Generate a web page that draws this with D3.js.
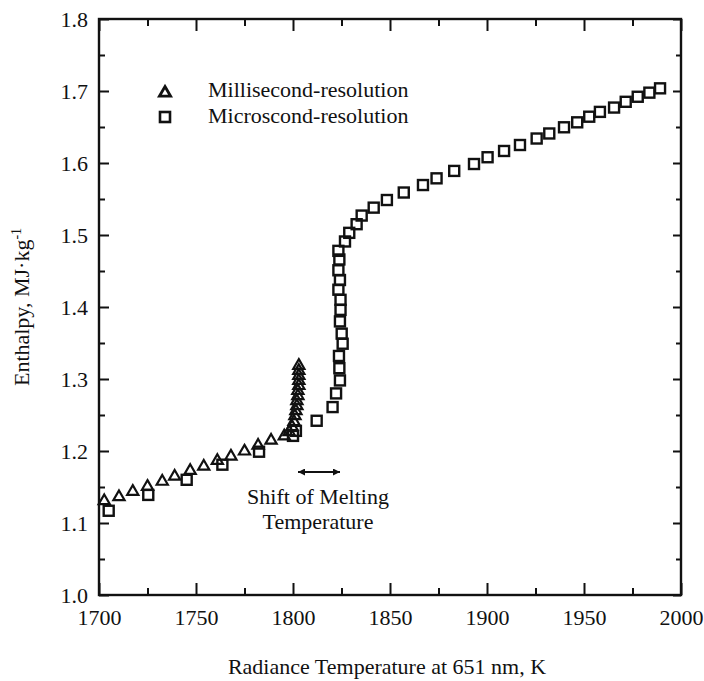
<!DOCTYPE html>
<html><head><meta charset="utf-8">
<script src="https://cdn.jsdelivr.net/npm/d3@7/dist/d3.min.js"></script>
<style>
body{margin:0;background:#fff;}
svg{display:block;}
text{font-family:"Liberation Serif","Times New Roman",serif;fill:#111;}
</style></head>
<body><svg id="c" width="704" height="681"></svg>
<script>
// Millisecond-resolution (triangles)
const msT = [1702.7,1710.3,1717.4,1725,1732.6,1739,1747,1754,1761,1768,1775,1782,1788.7,1795.5,
             1798,1799.5,1800.5,1801,1801.5,1802,1802,1802.5,1802.5,1803,1803,1803,1803,1803];
const msH = [1.132,1.1375,1.145,1.152,1.159,1.166,1.174,1.180,1.188,1.194,1.201,1.209,1.216,1.222,
             1.228,1.235,1.242,1.25,1.257,1.264,1.271,1.278,1.285,1.292,1.299,1.306,1.313,1.320];
// Microsecond-resolution (squares)
const usT = [1705,1725.4,1745.2,1763.6,1782.5,1800,1801.5,1812.2,1820.4,1822.2,1824.2,1823.9,1823.7,1825.6,1825.1,
             1824.2,1824.5,1824.5,1823.4,1824.2,1823.4,1823.9,1823.4,1826.8,1829,1832.8,1835.4,1841.6,1848.4,1857.1,
             1867,1874,1883.1,1893.3,1900.3,1908.8,1917,1925.6,1932.1,1939.7,1946.5,1952.7,1958.2,1965.5,1971.5,
             1977.7,1983.7,1989.2];
const usH = [1.117,1.139,1.160,1.181,1.199,1.221,1.228,1.242,1.261,1.280,1.298,1.315,1.332,1.349,1.363,
             1.380,1.396,1.410,1.424,1.4375,1.451,1.466,1.478,1.491,1.503,1.515,1.527,1.538,1.5486,1.559,
             1.5694,1.5787,1.589,1.5986,1.608,1.6167,1.625,1.634,1.641,1.6496,1.6565,1.6643,1.671,1.677,1.685,
             1.692,1.6977,1.7037];
const xTicks = [1700,1750,1800,1850,1900,1950,2000];
const xMinor = [1725,1775,1825,1875,1925,1975];
const yTicks = [1.0,1.1,1.2,1.3,1.4,1.5,1.6,1.7,1.8];
const yMinor = [1.05,1.15,1.25,1.35,1.45,1.55,1.65,1.75];
const legendLabels = ["Millisecond-resolution","Microscond-resolution"];

const L=99,R=681,T=19,B=595;
const svg=d3.select("#c");
const x=d3.scaleLinear().domain([1700,2000]).range([L,R]);
const y=d3.scaleLinear().domain([1.0,1.8]).range([B,T]);
const fs=22;

function styleAxis(g){
  g.select(".domain").remove();
  g.selectAll(".tick line").attr("stroke","#111").attr("stroke-width",2);
  g.selectAll(".tick text").attr("font-size",fs).attr("font-family","Liberation Serif, serif").attr("fill","#111");
}
// bottom
svg.append("g").attr("transform",`translate(0,${B})`)
  .call(d3.axisBottom(x).tickValues(xTicks).tickSize(-12).tickPadding(14).tickFormat(d3.format("d"))).call(styleAxis);
svg.append("g").attr("transform",`translate(0,${B})`)
  .call(d3.axisBottom(x).tickValues(xMinor).tickSize(-7).tickFormat("")).call(styleAxis);
// top
svg.append("g").attr("transform",`translate(0,${T})`)
  .call(d3.axisTop(x).tickValues(xTicks).tickSize(-12).tickFormat("")).call(styleAxis);
svg.append("g").attr("transform",`translate(0,${T})`)
  .call(d3.axisTop(x).tickValues(xMinor).tickSize(-7).tickFormat("")).call(styleAxis);
// left
svg.append("g").attr("transform",`translate(${L},0)`)
  .call(d3.axisLeft(y).tickValues(yTicks).tickSize(-10).tickPadding(11).tickFormat(d3.format(".1f"))).call(styleAxis);
svg.append("g").attr("transform",`translate(${L},0)`)
  .call(d3.axisLeft(y).tickValues(yMinor).tickSize(-6).tickFormat("")).call(styleAxis);
// right
svg.append("g").attr("transform",`translate(${R},0)`)
  .call(d3.axisRight(y).tickValues(yTicks).tickSize(-8).tickFormat("")).call(styleAxis);
svg.append("g").attr("transform",`translate(${R},0)`)
  .call(d3.axisRight(y).tickValues(yMinor).tickSize(-5).tickFormat("")).call(styleAxis);

svg.append("rect").attr("x",L).attr("y",T).attr("width",R-L).attr("height",B-T)
  .attr("fill","none").attr("stroke","#111").attr("stroke-width",2.4);

const tri = d3.symbol().type(d3.symbolTriangle).size(54);
const sq = 10;

// triangles
svg.append("g").selectAll("path").data(msT.map((t,i)=>[t,msH[i]])).join("path")
  .attr("d",tri).attr("transform",d=>`translate(${x(d[0])},${y(d[1])+1})`)
  .attr("fill","none").attr("stroke","#111").attr("stroke-width",2.2);
// squares
svg.append("g").selectAll("rect").data(usT.map((t,i)=>[t,usH[i]])).join("rect")
  .attr("x",d=>x(d[0])-sq/2).attr("y",d=>y(d[1])-sq/2).attr("width",sq).attr("height",sq)
  .attr("fill","none").attr("stroke","#111").attr("stroke-width",2.4);

// legend
svg.append("path").attr("d",tri).attr("transform","translate(165,93)")
  .attr("fill","none").attr("stroke","#111").attr("stroke-width",2.8);
svg.append("rect").attr("x",160).attr("y",112).attr("width",10).attr("height",10)
  .attr("fill","none").attr("stroke","#111").attr("stroke-width",2.6);
svg.append("text").attr("x",208).attr("y",97).attr("font-size",fs).text(legendLabels[0]);
svg.append("text").attr("x",208).attr("y",123).attr("font-size",fs).text(legendLabels[1]);

// annotation arrow
const defs=svg.append("defs");
defs.append("marker").attr("id","ah").attr("viewBox","0 0 10 10").attr("refX",10).attr("refY",5)
  .attr("markerWidth",12).attr("markerHeight",7).attr("markerUnits","userSpaceOnUse").attr("orient","auto-start-reverse")
  .append("path").attr("d","M0,0 L10,5 L0,10 z").attr("fill","#111");
svg.append("line").attr("x1",298).attr("x2",340).attr("y1",472).attr("y2",472)
  .attr("stroke","#111").attr("stroke-width",1.8)
  .attr("marker-start","url(#ah)").attr("marker-end","url(#ah)");
svg.append("text").attr("x",318).attr("y",504).attr("text-anchor","middle").attr("font-size",fs).text("Shift of Melting");
svg.append("text").attr("x",318).attr("y",529).attr("text-anchor","middle").attr("font-size",fs).text("Temperature");

// axis titles
svg.append("text").attr("x",(L+R)/2-3).attr("y",674).attr("text-anchor","middle").attr("font-size",fs)
  .text("Radiance Temperature at 651 nm, K");
const yt=svg.append("text").attr("transform",`translate(29,${(T+B)/2}) rotate(-90)`).attr("text-anchor","middle").attr("font-size",fs);
yt.append("tspan").text("Enthalpy, MJ·kg");
yt.append("tspan").attr("dy",-8).attr("font-size",14).text("-1");
</script></body></html>
